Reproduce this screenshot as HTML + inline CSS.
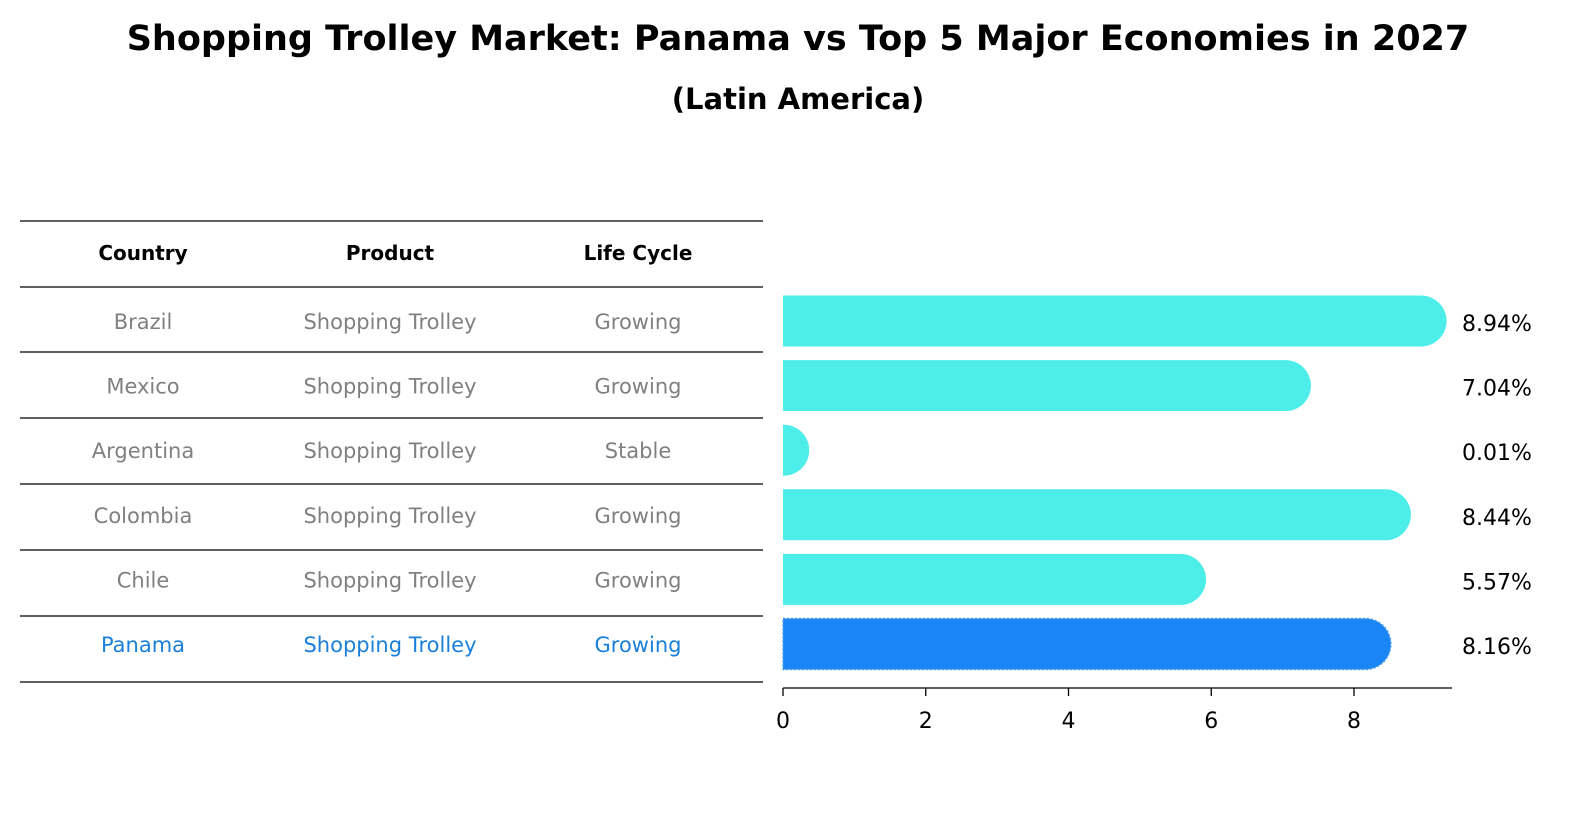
<!DOCTYPE html>
<html><head><meta charset="utf-8"><style>
body{margin:0;background:#fff;width:1586px;height:823px;overflow:hidden;font-family:"DejaVu Sans","Liberation Sans",sans-serif}
</style></head><body>
<svg width="1586" height="823" xmlns="http://www.w3.org/2000/svg" font-family="DejaVu Sans, Liberation Sans, sans-serif">
<text x="798" y="50" text-anchor="middle" font-size="35" font-weight="bold">Shopping Trolley Market: Panama vs Top 5 Major Economies in 2027</text>
<text x="798" y="109" text-anchor="middle" font-size="29" font-weight="bold">(Latin America)</text>
<g id="table"></g>
<g id="bars"></g>
</svg>
<script>
const countries=["Brazil","Mexico","Argentina","Colombia","Chile","Panama"];
const products=["Shopping Trolley","Shopping Trolley","Shopping Trolley","Shopping Trolley","Shopping Trolley","Shopping Trolley"];
const lifecycles=["Growing","Growing","Stable","Growing","Growing","Growing"];
const values=[8.94,7.04,0.01,8.44,5.57,8.16];
const ticks=[0,2,4,6,8];
const NS="http://www.w3.org/2000/svg";
const tbl=document.getElementById('table'),bars=document.getElementById('bars');
function mk(p,tag,a,txt){const e=document.createElementNS(NS,tag);for(const k in a)e.setAttribute(k,a[k]);if(txt!==undefined)e.textContent=txt;p.appendChild(e);return e;}
const lineYs=[221,287,352,418,484,550,616,682];
lineYs.forEach((y,i)=>{const l=mk(tbl,'line',{x1:20,x2:763,y1:y,y2:y,stroke:'#000','stroke-width':1.2});

});
const cx=[143,390,638];
["Country","Product","Life Cycle"].forEach((h,i)=>{const t=mk(tbl,'text',{x:cx[i],y:260,'text-anchor':'middle','font-size':20,'font-weight':'bold'},h);

});
const xs=v=>783+v*71.375;
const rowY=i=>321+i*64.6;
countries.forEach((c,i)=>{
 const col=c==="Panama"?'#1a80d9':'#808080';
 [c,products[i],lifecycles[i]].forEach((s,j)=>{const t=mk(tbl,'text',{x:cx[j],y:rowY(i)+8,'text-anchor':'middle','font-size':21,fill:col},s);
 
 });
 const y=rowY(i),h=51,w=xs(values[i])-783,r=h/2;
 const fill=c==="Panama"?'#1a86f5':'#4deee9';
 let d;
 if(w>0.5){d=`M783 ${y-r} H${783+w} A${r} ${r} 0 0 1 ${783+w} ${y+r} H783 Z`;}else{d=`M783 ${y-r} H784.5 V${y+r} H783 Z`;}
 const b=mk(bars,'path',{d:d,fill:fill});
 if(c==="Panama"){b.setAttribute('stroke','#4a9ee8');b.setAttribute('stroke-dasharray','2 2');b.setAttribute('stroke-width','1.5');}
 
 
 const t=mk(bars,'text',{x:1462,y:y+10,'font-size':22},values[i].toFixed(2)+'%');
 
 
});
const ax=mk(bars,'line',{x1:783,x2:1452,y1:688,y2:688,stroke:'#000','stroke-width':1.3});


ticks.forEach(v=>{const l=mk(bars,'line',{x1:xs(v),x2:xs(v),y1:688,y2:696,stroke:'#000','stroke-width':1.3});


const t=mk(bars,'text',{x:xs(v),y:728,'text-anchor':'middle','font-size':22},String(v));

});
</script>
</body></html>
